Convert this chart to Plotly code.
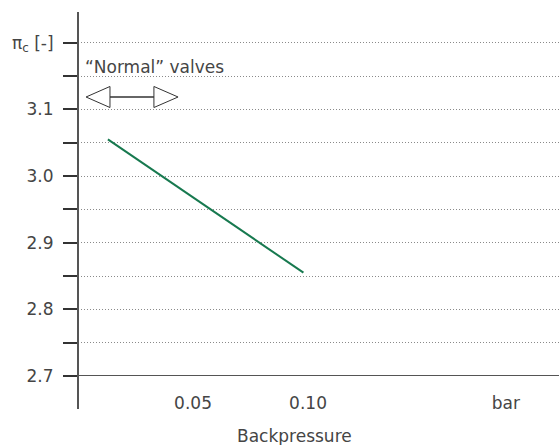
import plotly.graph_objects as go

# Data
backpressure = [0.013, 0.098]
pressure_ratio = [3.055, 2.855]

y_major_vals = [2.7, 2.8, 2.9, 3.0, 3.1, 3.2]
y_major_text = ["2.7", "2.8", "2.9", "3.0", "3.1", "π<sub>c</sub> [-]"]
y_minor_vals = [2.75, 2.85, 2.95, 3.05, 3.15]
x_tickvals = [0.05, 0.10, 0.186]
x_ticktext = ["0.05", "0.10", "bar"]

TEXT = "#454545"
AXIS = "#555555"
FONT = "DejaVu Sans, sans-serif"
FS = 17

fig = go.Figure()
fig.add_trace(go.Scatter(
    x=backpressure, y=pressure_ratio, mode="lines",
    line=dict(color="#17794f", width=2), hoverinfo="skip", showlegend=False,
))

# arrow geometry (annotation, data coords)
ay = 3.1185
hh = 0.0158
lt, lb, rb, rt = 0.0035, 0.0139, 0.0330, 0.0435
shapes = [
    dict(type="path", xref="x", yref="y",
         path=f"M {lt},{ay} L {lb},{ay+hh} L {lb},{ay-hh} Z",
         line=dict(color="#333", width=1), fillcolor="white"),
    dict(type="path", xref="x", yref="y",
         path=f"M {rt},{ay} L {rb},{ay+hh} L {rb},{ay-hh} Z",
         line=dict(color="#333", width=1), fillcolor="white"),
    dict(type="line", xref="x", yref="y", x0=lb, x1=rb, y0=ay, y1=ay,
         line=dict(color="#333", width=1.5)),
    # x axis line
    dict(type="line", xref="paper", yref="y", x0=0, x1=1, y0=2.7, y1=2.7,
         line=dict(color=AXIS, width=2)),
    # y axis line extended below
    dict(type="line", xref="paper", yref="paper", x0=0, x1=0, y0=-33/364, y1=1,
         line=dict(color=AXIS, width=2)),
]

grid_style = dict(showgrid=True, gridcolor="#8a8a8a", griddash="1px,2px", gridwidth=1)

fig.update_layout(
    width=559, height=445,
    margin=dict(l=78, r=0, t=12, b=69),
    paper_bgcolor="white", plot_bgcolor="white",
    font=dict(family=FONT, size=FS, color=TEXT),
    shapes=shapes,
    xaxis=dict(
        range=[0, 0.2091], showgrid=False, zeroline=False, showline=False,
        tickvals=x_tickvals, ticktext=x_ticktext,
        ticks="outside", ticklen=12, tickcolor="rgba(0,0,0,0)",
        tickfont=dict(size=FS, color=TEXT),
    ),
    yaxis=dict(
        range=[2.7, 3.246], zeroline=False, showline=False,
        tickvals=y_major_vals, ticktext=y_major_text,
        ticks="outside", ticklen=14, tickwidth=1.5, tickcolor="#333",
        ticklabelstandoff=6,
        tickfont=dict(size=FS, color=TEXT),
        minor=dict(tickvals=y_minor_vals, ticks="outside", ticklen=14,
                   tickwidth=1.5, tickcolor="#333", **grid_style),
        **grid_style,
    ),
    annotations=[
        dict(x=0.0035, y=3.164, xref="x", yref="y", text="“Normal” valves",
             showarrow=False, xanchor="left", yanchor="middle", xshift=-3,
             font=dict(size=FS, color=TEXT)),
        dict(x=(294 - 78) / 481, y=(445 - 69 - 436) / 364, xref="paper", yref="paper",
             text="Backpressure", showarrow=False, xanchor="center", yanchor="middle",
             font=dict(size=FS, color=TEXT)),
    ],
)

fig.write_html("out.html")
